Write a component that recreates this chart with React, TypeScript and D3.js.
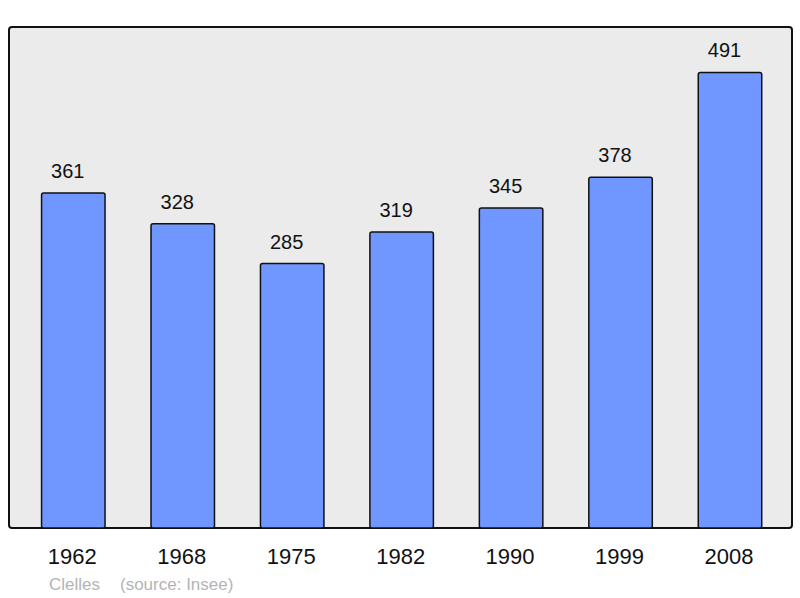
import React from 'react';
import * as d3 from 'd3';

const years = ['1962', '1968', '1975', '1982', '1990', '1999', '2008'];
const population = [361, 328, 285, 319, 345, 378, 491];
const placeName = 'Clelles';
const sourceNote = '(source: Insee)';

const W = 800;
const H = 598;
const panel = { left: 9, top: 27, right: 792, bottom: 528 };

export default function App() {
  const x = d3.scalePoint<string>().domain(years).range([73.3, 730]);
  const barW = x.step() * 0.58;
  const y = d3.scaleLinear().domain([0, 540]).range([panel.bottom, panel.top]);
  const font = '"Liberation Sans", Arial, sans-serif';

  return (
    <svg width={W} height={H} style={{ position: 'absolute', left: 0, top: 0 }} fontFamily={font}>
      <rect x={0} y={0} width={W} height={H} fill="#fff" />
      <rect
        x={panel.left}
        y={panel.top}
        width={panel.right - panel.left}
        height={panel.bottom - panel.top}
        rx={3}
        fill="#ebebeb"
        stroke="#111"
        strokeWidth={2}
      />
      {years.map((yr, i) => {
        const cx = x(yr) as number;
        const v = population[i];
        return (
          <g key={yr}>
            <rect
              x={cx - barW / 2}
              y={y(v)}
              width={barW}
              height={panel.bottom - y(v)}
              rx={2}
              fill="#7096ff"
              stroke="#111"
              strokeWidth={1.5}
            />
            <text x={cx - 5.5} y={y(v) - 15} textAnchor="middle" fontSize={20} fill="#111">
              {v}
            </text>
            <text x={cx - 1} y={564} textAnchor="middle" fontSize={22} fill="#111">
              {yr}
            </text>
          </g>
        );
      })}
      <text x={49} y={590} fontSize={17} fill="#b4b4b4">{placeName}</text>
      <text x={120} y={590} fontSize={17} fill="#b4b4b4">{sourceNote}</text>
    </svg>
  );
}
